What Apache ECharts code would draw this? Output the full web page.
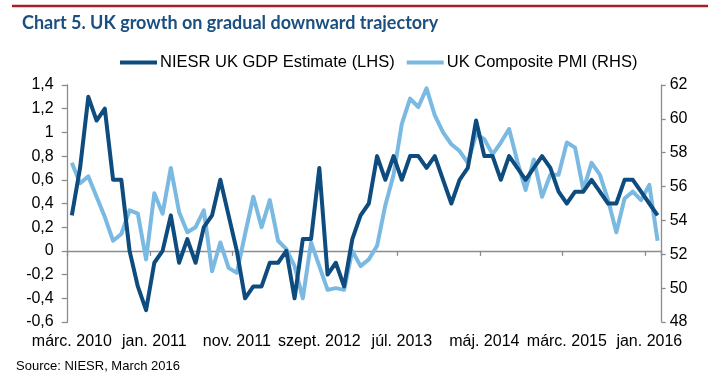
<!DOCTYPE html>
<html>
<head>
<meta charset="utf-8">
<script src="https://cdn.jsdelivr.net/npm/echarts@6/dist/echarts.min.js"></script>
<style>
html,body{margin:0;padding:0;background:#fff;}
#c{width:728px;height:383px;}
</style>
</head>
<body>
<div id="c"></div>
<script>
const monthNames = ['jan.','febr.','márc.','ápr.','máj.','jún.','júl.','aug.','szept.','okt.','nov.','dec.'];
// Monthly categories: March 2010 to February 2016
const categories = [];
for (let y = 2010, m = 2; !(y === 2016 && m === 2); ) {
  categories.push(monthNames[m] + ' ' + y);
  m++; if (m === 12) { m = 0; y++; }
}
const gdpEstimate = [0.3,0.7,1.3,1.1,1.2,0.6,0.6,0.0,-0.3,-0.5,
  -0.1,0.0,0.3,-0.1,0.1,-0.1,0.2,0.3,0.6,0.3,
  0.0,-0.4,-0.3,-0.3,-0.1,-0.1,0.0,-0.4,0.1,0.1,
  0.7,-0.2,-0.1,-0.3,0.1,0.3,0.4,0.8,0.6,0.8,
  0.6,0.8,0.8,0.7,0.8,0.6,0.4,0.6,0.7,1.1,
  0.8,0.8,0.6,0.8,0.7,0.6,0.7,0.8,0.7,0.5,
  0.4,0.5,0.5,0.6,0.5,0.4,0.4,0.6,0.6,0.5,
  0.4,0.3];
const compositePMI = [57.4,56.2,56.6,55.4,54.2,52.8,53.2,54.6,54.4,51.7,
  55.6,54.4,57.1,54.5,53.3,53.6,54.6,51.0,52.7,51.2,
  50.9,53.2,55.4,53.6,55.2,52.8,52.3,51.3,49.4,52.7,
  51.3,49.9,50.0,49.9,52.2,51.3,51.7,52.5,54.9,56.7,
  59.7,61.2,60.7,61.8,60.2,59.2,58.5,58.1,57.4,59.1,
  58.8,57.9,58.6,59.4,57.5,55.8,57.6,55.4,56.7,56.7,
  58.6,58.3,55.8,57.4,56.7,55.2,53.3,55.3,55.7,55.2,
  56.1,52.8];
const leftTicks = {min: -0.6, max: 1.4, interval: 0.2};
const rightTicks = {min: 48, max: 62, interval: 2};
const labelStep = 10;

const chart = echarts.init(document.getElementById('c'), null, {renderer: 'canvas'});
const axisGray = '#8c8c8c';
const font = 'Liberation Sans, Arial, sans-serif';
chart.setOption({
  animation: false,
  backgroundColor: '#ffffff',
  graphic: [
    {type: 'line', shape: {x1: 12, y1: 6, x2: 708, y2: 6}, style: {stroke: '#A3202B', lineWidth: 2.5}},
    {type: 'text', left: 22, top: 14, style: {text: 'Chart 5. UK growth on gradual downward trajectory', font: 'bold 18px Lato, sans-serif', fill: '#1B4F80'}},
    {type: 'text', left: 16, top: 360, style: {text: 'Source: NIESR, March 2016', font: '13px "Liberation Sans Narrow", "Arial Narrow", sans-serif', fill: '#000'}}
  ],
  legend: {
    left: 120, top: 54, padding: 0,
    itemWidth: 37, itemHeight: 4, itemGap: 12,
    icon: 'rect',
    textStyle: {fontSize: 16.5, fontFamily: font, color: '#000', padding: [0,0,0,-2]},
    data: ['NIESR UK GDP Estimate (LHS)', 'UK Composite PMI (RHS)']
  },
  grid: {left: 67.7, right: 66.3, top: 85, bottom: 61, containLabel: false},
  xAxis: [
    {
      type: 'category', data: categories, boundaryGap: true,
      axisLine: {onZero: true, lineStyle: {color: axisGray, width: 1.3}},
      axisTick: {show: true, interval: labelStep - 1, length: 5, lineStyle: {color: axisGray, width: 1.3}},
      axisLabel: {show: false},
      splitLine: {show: false}
    },
    {
      type: 'category', data: categories, boundaryGap: true, position: 'bottom',
      axisLine: {show: false, onZero: false},
      axisTick: {show: false},
      axisLabel: {interval: labelStep - 1, margin: 12, fontSize: 16, fontFamily: font, color: '#000'},
      splitLine: {show: false}
    }
  ],
  yAxis: [
    {
      type: 'value', min: leftTicks.min, max: leftTicks.max, interval: leftTicks.interval,
      axisLine: {show: true, lineStyle: {color: axisGray, width: 1.3}},
      axisTick: {show: true, length: 6, lineStyle: {color: axisGray, width: 1.3}},
      axisLabel: {margin: 14, fontSize: 16, fontFamily: font, color: '#000',
        formatter: v => String(Number(v.toFixed(1))).replace('.', ',')},
      splitLine: {show: false}
    },
    {
      type: 'value', min: rightTicks.min, max: rightTicks.max, interval: rightTicks.interval, position: 'right',
      axisLine: {show: true, lineStyle: {color: axisGray, width: 1.3}},
      axisTick: {show: true, length: 4, lineStyle: {color: axisGray, width: 1.3}},
      axisLabel: {margin: 8, fontSize: 16, fontFamily: font, color: '#000'},
      splitLine: {show: false}
    }
  ],
  series: [
    {
      name: 'NIESR UK GDP Estimate (LHS)', type: 'line', xAxisIndex: 0, yAxisIndex: 0,
      data: gdpEstimate, showSymbol: false, symbol: 'none', z: 3,
      lineStyle: {color: '#0E4B7E', width: 4, join: 'round'}, itemStyle: {color: '#0E4B7E'}
    },
    {
      name: 'UK Composite PMI (RHS)', type: 'line', xAxisIndex: 0, yAxisIndex: 1,
      data: compositePMI, showSymbol: false, symbol: 'none', z: 2,
      lineStyle: {color: '#7AB9E1', width: 4, join: 'round'}, itemStyle: {color: '#7AB9E1'}
    }
  ]
});
</script>
</body>
</html>
